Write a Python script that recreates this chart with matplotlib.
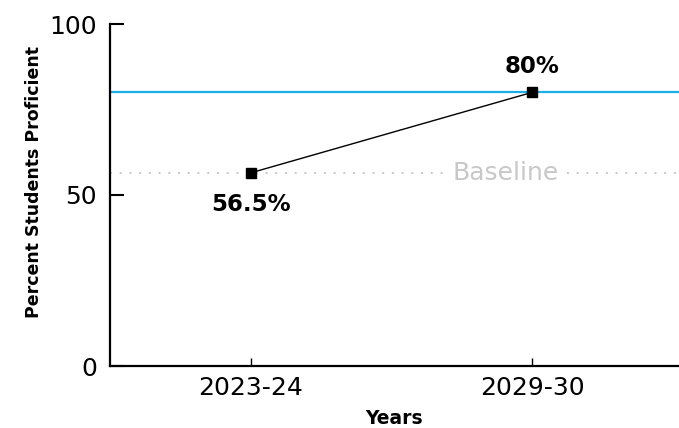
import matplotlib
matplotlib.use("Agg")
import matplotlib.pyplot as plt

years = ["2023-24", "2029-30"]
values = [56.5, 80]
labels = ["56.5%", "80%"]
target = 80
baseline = 56.5
yticks = [0, 50, 100]

plt.rcParams['font.family'] = ['DejaVu Sans']

fig = plt.figure(figsize=(6.79, 4.28), dpi=100)
ax = fig.add_axes([110/679, 62/428, 569/679, 342/428])

x = list(range(len(years)))
ax.set_xlim(-0.502, 1.523)
ax.set_ylim(0, 100)

# target line
ax.axhline(target, color="#1AAFE6", lw=1.6, zorder=2)

# baseline dotted line and label
ax.axhline(baseline, color="#c8c8c8", lw=1.4, ls=(0, (1, 4)), zorder=1)
ax.text(0.905, baseline, "Baseline", color="#c8c8c8", fontsize=18,
        ha="center", va="center", zorder=3,
        bbox=dict(facecolor="white", edgecolor="none", pad=4.5))

ax.plot(x, values, color="black", lw=1, marker="s", markersize=7.5, zorder=4)

ax.annotate(labels[0], (x[0], values[0]), xytext=(0, -23), textcoords="offset points",
            ha="center", va="center", fontsize=16.5, fontweight="bold")
ax.annotate(labels[1], (x[1], values[1]), xytext=(0, 19), textcoords="offset points",
            ha="center", va="center", fontsize=16.5, fontweight="bold")

ax.set_xticks(x)
ax.set_xticklabels(years)
ax.set_yticks(yticks)
ax.set_yticklabels([str(v) for v in yticks])
for lab in ax.get_xticklabels() + ax.get_yticklabels():
    lab.set_fontsize(18)

ax.tick_params(axis="y", direction="in", length=10, width=1.5, pad=9.5)
ax.tick_params(axis="x", direction="in", length=6, width=1, pad=7)

for s in ["top", "right"]:
    ax.spines[s].set_visible(False)
ax.spines["left"].set_linewidth(1.6)
ax.spines["bottom"].set_linewidth(1.6)

ax.set_ylabel("Percent Students Proficient", fontsize=12.5, fontweight="bold")
ax.yaxis.set_label_coords(-0.118, 0.539)
ax.set_xlabel("Years", fontsize=13.5, fontweight="bold", labelpad=7)

fig.savefig("out.png", dpi=100)
